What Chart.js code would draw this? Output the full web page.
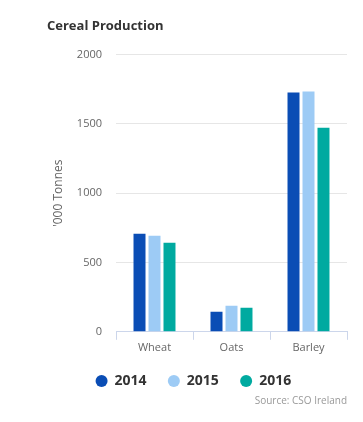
<!DOCTYPE html>
<html>
<head>
<meta charset="utf-8">
<script src="https://cdn.jsdelivr.net/npm/chart.js@4"></script>
<style>
  html, body { margin: 0; padding: 0; background: #fff; }
  #wrap { width: 363px; height: 422px; position: relative; }
</style>
</head>
<body>
<div id="wrap"><canvas id="cerealChart"></canvas></div>
<script>
const categories = ['Wheat', 'Oats', 'Barley'];
const years = ['2014', '2015', '2016'];
const values2014 = [707, 144, 1726];
const values2015 = [693, 188, 1733];
const values2016 = [643, 173, 1473];
const yTicks = [0, 500, 1000, 1500, 2000];
const colors = ['#0a4db5', '#9dcbf5', '#00aaa0'];

const FONT = '"Open Sans", "DejaVu Sans", sans-serif';

new Chart(document.getElementById('cerealChart'), {
    type: 'bar',
    data: {
        labels: categories,
        datasets: [values2014, values2015, values2016].map((vals, i) => ({
            label: years[i],
            data: vals,
            backgroundColor: colors[i],
            borderWidth: 0,
            categoryPercentage: 0.584,
            barPercentage: 0.8
        }))
    },
    options: {
        responsive: true,
        maintainAspectRatio: false,
        animation: false,
        layout: { padding: { left: 47, right: 16, top: 18, bottom: 15 } },
        plugins: {
            title: {
                display: true,
                text: 'Cereal Production',
                align: 'start',
                color: '#333333',
                font: { family: FONT, size: 13, weight: 'bold' },
                padding: { top: 0, bottom: 21 }
            },
            subtitle: {
                display: true,
                text: 'Source: CSO Ireland',
                position: 'bottom',
                align: 'end',
                color: '#999999',
                font: { family: FONT, size: 10 },
                padding: { top: -3, bottom: 0 }
            },
            legend: {
                position: 'bottom',
                labels: {
                    usePointStyle: true,
                    pointStyle: 'circle',
                    boxWidth: 12,
                    boxHeight: 8.5,
                    padding: 14,
                    color: '#333333',
                    font: { family: FONT, size: 14, weight: 'bold' },
                    // trailing spaces widen the gap between items
                    generateLabels: chart => Chart.defaults.plugins.legend.labels.generateLabels(chart)
                        .map(item => ({ ...item, text: item.text + '  ' }))
                }
            },
            tooltip: { enabled: false }
        },
        scales: {
            x: {
                afterFit: scale => { scale.height += 5; },
                grid: {
                    display: true,
                    drawOnChartArea: false,
                    offset: true,
                    tickLength: 8,
                    color: '#ccd6eb'
                },
                border: { color: '#ccd6eb' },
                ticks: {
                    color: '#666666',
                    font: { family: FONT, size: 11 },
                    padding: 1
                }
            },
            y: {
                min: 0,
                max: 2000,
                afterBuildTicks: scale => { scale.ticks = yTicks.map(v => ({ value: v })); },
                afterFit: scale => { scale.width = 69; },
                grid: { color: '#e6e6e6', drawTicks: false },
                border: { display: false },
                ticks: {
                    color: '#666666',
                    font: { family: FONT, size: 11 },
                    padding: 14,
                    callback: v => String(v)
                },
                title: {
                    display: true,
                    text: "'000 Tonnes",
                    color: '#666666',
                    font: { family: FONT, size: 12 },
                    padding: { top: 4, bottom: 0 }
                }
            }
        }
    }
});
</script>
</body>
</html>
